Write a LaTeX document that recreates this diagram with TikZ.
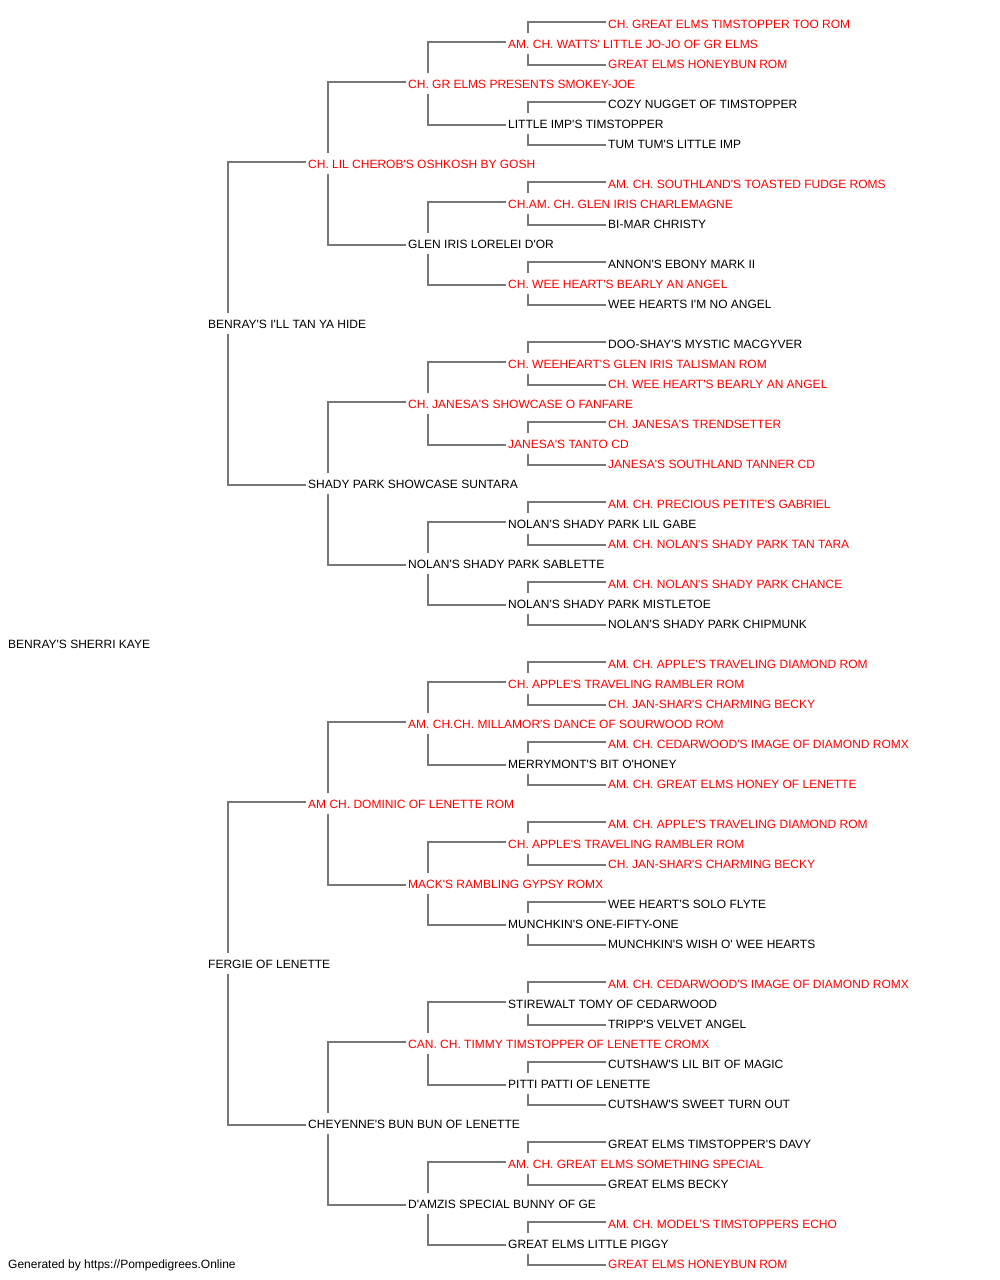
\documentclass[tikz,border=0pt]{standalone}
\usepackage{fontspec}
\setmainfont{Liberation Sans}[Ligatures=TeXOff]
\usetikzlibrary{calc}
\definecolor{R}{HTML}{FF0000}
\definecolor{K}{HTML}{000000}
\definecolor{linegray}{HTML}{777777}
\newcommand\pedjoin[3]{%
  \draw[conn] ($(#1.west)+(20,-10)$) |- ($(#2.west)+(-2.5,-1)$);
  \draw[conn] ($(#1.west)+(20,11)$) |- ($(#3.west)+(-2.5,2)$);}
\begin{document}
\begin{tikzpicture}[x=1pt,y=-1pt,
  nm/.style={inner sep=0pt,anchor=west,text height=10.4pt,text depth=0pt,
    font=\fontsize{12}{14}\selectfont},
  conn/.style={draw=linegray,line width=1.2pt}]
\useasboundingbox (0,0) rectangle (1000,1280);
% generation 0 and 1
\node[nm,text=K] (r) at (8,643) {BENRAY'S SHERRI KAYE};
\node[nm,text=K] (a0) at (208,323) {BENRAY'S I'LL TAN YA HIDE};
\node[nm,text=K] (a1) at (208,963) {FERGIE OF LENETTE};
% generation 2
\foreach [count=\k from 0] \t/\c in {
  CH. LIL CHEROB'S OSHKOSH BY GOSH/R,
  SHADY PARK SHOWCASE SUNTARA/K,
  AM CH. DOMINIC OF LENETTE ROM/R,
  CHEYENNE'S BUN BUN OF LENETTE/K}
  {\node[nm,text=\c] (b\k) at (308,{163+320*\k}) {\t};}
% generation 3
\foreach [count=\k from 0] \t/\c in {
  CH. GR ELMS PRESENTS SMOKEY-JOE/R,
  GLEN IRIS LORELEI D'OR/K,
  CH. JANESA'S SHOWCASE O FANFARE/R,
  NOLAN'S SHADY PARK SABLETTE/K,
  AM. CH.CH. MILLAMOR'S DANCE OF SOURWOOD ROM/R,
  MACK'S RAMBLING GYPSY ROMX/R,
  CAN. CH. TIMMY TIMSTOPPER OF LENETTE CROMX/R,
  D'AMZIS SPECIAL BUNNY OF GE/K}
  {\node[nm,text=\c] (c\k) at (408,{83+160*\k}) {\t};}
% generation 4
\foreach [count=\k from 0] \t/\c in {
  AM. CH. WATTS' LITTLE JO-JO OF GR ELMS/R,
  LITTLE IMP'S TIMSTOPPER/K,
  CH.AM. CH. GLEN IRIS CHARLEMAGNE/R,
  CH. WEE HEART'S BEARLY AN ANGEL/R,
  CH. WEEHEART'S GLEN IRIS TALISMAN ROM/R,
  JANESA'S TANTO CD/R,
  NOLAN'S SHADY PARK LIL GABE/K,
  NOLAN'S SHADY PARK MISTLETOE/K,
  CH. APPLE'S TRAVELING RAMBLER ROM/R,
  MERRYMONT'S BIT O'HONEY/K,
  CH. APPLE'S TRAVELING RAMBLER ROM/R,
  MUNCHKIN'S ONE-FIFTY-ONE/K,
  STIREWALT TOMY OF CEDARWOOD/K,
  PITTI PATTI OF LENETTE/K,
  AM. CH. GREAT ELMS SOMETHING SPECIAL/R,
  GREAT ELMS LITTLE PIGGY/K}
  {\node[nm,text=\c] (d\k) at (508,{43+80*\k}) {\t};}
% generation 5
\foreach [count=\k from 0] \t/\c in {
  CH. GREAT ELMS TIMSTOPPER TOO ROM/R,
  GREAT ELMS HONEYBUN ROM/R,
  COZY NUGGET OF TIMSTOPPER/K,
  TUM TUM'S LITTLE IMP/K,
  AM. CH. SOUTHLAND'S TOASTED FUDGE ROMS/R,
  BI-MAR CHRISTY/K,
  ANNON'S EBONY MARK II/K,
  WEE HEARTS I'M NO ANGEL/K,
  DOO-SHAY'S MYSTIC MACGYVER/K,
  CH. WEE HEART'S BEARLY AN ANGEL/R,
  CH. JANESA'S TRENDSETTER/R,
  JANESA'S SOUTHLAND TANNER CD/R,
  AM. CH. PRECIOUS PETITE'S GABRIEL/R,
  AM. CH. NOLAN'S SHADY PARK TAN TARA/R,
  AM. CH. NOLAN'S SHADY PARK CHANCE/R,
  NOLAN'S SHADY PARK CHIPMUNK/K,
  AM. CH. APPLE'S TRAVELING DIAMOND ROM/R,
  CH. JAN-SHAR'S CHARMING BECKY/R,
  AM. CH. CEDARWOOD'S IMAGE OF DIAMOND ROMX/R,
  AM. CH. GREAT ELMS HONEY OF LENETTE/R,
  AM. CH. APPLE'S TRAVELING DIAMOND ROM/R,
  CH. JAN-SHAR'S CHARMING BECKY/R,
  WEE HEART'S SOLO FLYTE/K,
  MUNCHKIN'S WISH O' WEE HEARTS/K,
  AM. CH. CEDARWOOD'S IMAGE OF DIAMOND ROMX/R,
  TRIPP'S VELVET ANGEL/K,
  CUTSHAW'S LIL BIT OF MAGIC/K,
  CUTSHAW'S SWEET TURN OUT/K,
  GREAT ELMS TIMSTOPPER'S DAVY/K,
  GREAT ELMS BECKY/K,
  AM. CH. MODEL'S TIMSTOPPERS ECHO/R,
  GREAT ELMS HONEYBUN ROM/R}
  {\node[nm,text=\c] (e\k) at (608,{23+40*\k}) {\t};}
% footer
\node[nm,text=K] (foot) at (8,1263) {Generated by https://Pompedigrees.Online};
% connectors
\foreach \i in {0,1} {\pgfmathtruncatemacro\ta{2*\i}\pgfmathtruncatemacro\tb{2*\i+1}\pedjoin{a\i}{b\ta}{b\tb}}
\foreach \i in {0,...,3} {\pgfmathtruncatemacro\ta{2*\i}\pgfmathtruncatemacro\tb{2*\i+1}\pedjoin{b\i}{c\ta}{c\tb}}
\foreach \i in {0,...,7} {\pgfmathtruncatemacro\ta{2*\i}\pgfmathtruncatemacro\tb{2*\i+1}\pedjoin{c\i}{d\ta}{d\tb}}
\foreach \i in {0,...,15} {\pgfmathtruncatemacro\ta{2*\i}\pgfmathtruncatemacro\tb{2*\i+1}\pedjoin{d\i}{e\ta}{e\tb}}
\end{tikzpicture}
\end{document}
